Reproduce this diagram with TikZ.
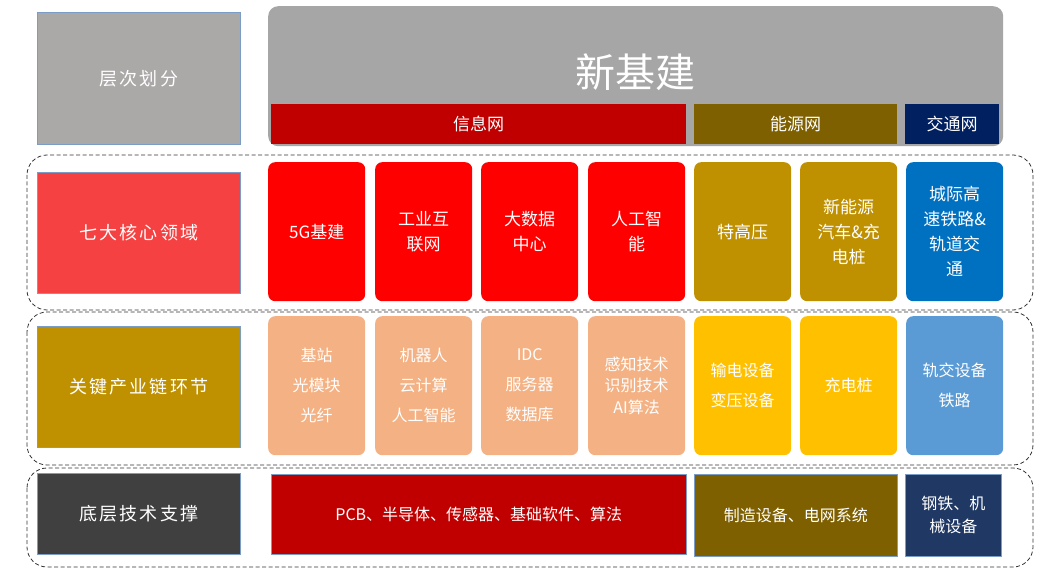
\documentclass[tikz,border=0pt]{standalone}
\usepackage{fontspec}
\newfontfamily\cjk{Noto Sans CJK SC}
\definecolor{levelgray}{HTML}{ABA8A8}
\definecolor{topgray}{HTML}{A6A6A6}
\definecolor{coral}{HTML}{F54141}
\definecolor{gold}{HTML}{BF9000}
\definecolor{darkgray}{HTML}{404040}
\definecolor{darkred}{HTML}{C00000}
\definecolor{olive}{HTML}{7F6000}
\definecolor{navy}{HTML}{002060}
\definecolor{brightred}{HTML}{FF0000}
\definecolor{steelblue}{HTML}{0070C0}
\definecolor{peach}{HTML}{F4B183}
\definecolor{amber}{HTML}{FFC000}
\definecolor{skyblue}{HTML}{5B9BD5}
\definecolor{deepnavy}{HTML}{1F3864}
\definecolor{edgeblue}{HTML}{7A9CC6}
\begin{document}
\begin{tikzpicture}[x=1pt,y=-1pt,
		every node/.style={text=white,align=center,inner sep=0pt,anchor=north west},
		layer/.style={draw=edgeblue,line width=0.6pt,minimum width=203pt,
			font=\cjk\addfontfeature{LetterSpace=12}\fontsize{18}{22}\selectfont},
		cell/.style={rounded corners=7pt,minimum width=97pt,minimum height=139pt,
			font=\cjk\fontsize{17}{25}\selectfont},
		bar/.style={minimum height=40pt,font=\cjk\fontsize{17}{22}\selectfont},
		base/.style={draw=edgeblue,line width=0.6pt,font=\cjk\fontsize{16}{23}\selectfont},
		band/.style={draw=black!80,dash pattern=on 4pt off 2.5pt,rounded corners=20pt,line width=0.8pt}]
		\useasboundingbox (0,0) rectangle (1045,569);
		% dashed bands
		\draw[band] (27,155) rectangle (1033,310);
		\draw[band] (27,312) rectangle (1033,465);
		\draw[band] (27,468) rectangle (1033,567);
		% left column
		\node[layer,fill=levelgray,minimum height=132pt] (levels) at (37,12) {层次划分};
		\node[layer,fill=coral,minimum height=121pt] (core) at (37,172) {七大核心领域};
		\node[layer,fill=gold,minimum height=121pt] (chain) at (37,326) {关键产业链环节};
		\node[layer,fill=darkgray,minimum height=81pt] (tech) at (37,473) {底层技术支撑};
		% header
		\node[fill=topgray,rounded corners=10pt,minimum width=735pt,minimum height=140pt] (xjj) at (268,6) {};
		\node[anchor=center,font=\cjk\fontsize{40}{44}\selectfont] (title) at (635,72) {新基建};
		\node[bar,fill=darkred,minimum width=415pt] (info) at (271,104) {信息网};
		\node[bar,fill=olive,minimum width=203pt] (energy) at (694,104) {能源网};
		\node[bar,fill=navy,minimum width=94pt] (traffic) at (905,104) {交通网};
		% seven fields
		\foreach \x/\name/\col/\txt in {
			268/fa/brightred/{5G基建},
			375/fb/brightred/{工业互\\联网},
			481/fc/brightred/{大数据\\中心},
			588/fd/brightred/{人工智\\能},
			694/fe/gold/{特高压},
			800/ff/gold/{新能源\\汽车\&充\\电桩},
			906/fg/steelblue/{城际高\\速铁路\&\\轨道交\\通}}
		\node[cell,fill=\col] (\name) at (\x,162) {\txt};
		% industry chain
		\foreach \x/\name/\col/\txt in {
			268/ca/peach/{基站\\光模块\\光纤},
			375/cb/peach/{机器人\\云计算\\人工智能},
			481/cc/peach/{IDC\\服务器\\数据库},
			694/ce/amber/{输电设备\\变压设备},
			800/cf/amber/{充电桩},
			906/cg/skyblue/{轨交设备\\铁路}}
		\node[cell,fill=\col,font=\cjk\fontsize{16}{30}\selectfont] (\name) at (\x,316) {\txt};
		\node[cell,fill=peach,font=\cjk\fontsize{16}{21.5}\selectfont] (cd) at (588,316) {感知技术\\识别技术\\AI算法};
		% base technology
		\node[base,fill=darkred,minimum width=415pt,minimum height=80pt] (pcb) at (271,474) {PCB、半导体、传感器、基础软件、算法};
		\node[base,fill=olive,minimum width=203pt,minimum height=82pt] (equip) at (694,474) {制造设备、电网系统};
		\node[base,fill=deepnavy,minimum width=96pt,minimum height=82pt] (steel) at (905,474) {钢铁、机\\械设备};
	\end{tikzpicture}
\end{document}
